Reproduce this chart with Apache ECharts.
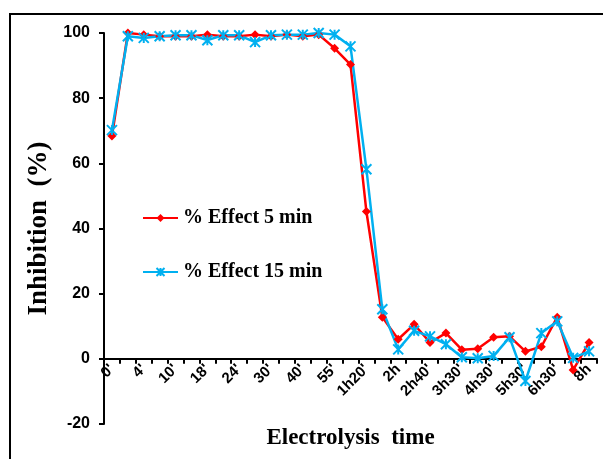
<!DOCTYPE html>
<html>
<head>
<meta charset="utf-8">
<script src="https://cdn.jsdelivr.net/npm/echarts@6/dist/echarts.min.js"></script>
<style>html,body{margin:0;padding:0;background:#fff;}#c{width:603px;height:459px;}</style>
</head>
<body>
<div id="c"></div>
<script>
const categories = ["0'","2'","4'","7'","10'","14'","18'","21'","24'","27'","30'","35'","40'","45'","55'","1h05'","1h20'","1h40'","2h","2h20'","2h40'","3h","3h30'","4h","4h30'","5h","5h30'","6h","6h30'","7h","8h"];
const effect5 = [68.4,100,99.5,99,99,99,99.5,99,99,99.5,99,99.5,99,99.5,95.3,90.3,45.2,12.8,6,10.6,5,7.9,2.8,3.1,6.6,6.9,2.3,3.7,12.8,-3.4,5];
const effect15 = [70.2,99,98.5,99,99.3,99.3,97.8,99.3,99.3,97.2,99.3,99.5,99.5,100,99.5,95.9,58.2,15.2,2.9,8.6,6.9,4.5,0.5,0.2,0.9,6.6,-6.8,7.9,11.5,0.3,2.3];
const yTicks = {min:-20, max:100, interval:20};

const gridTop = 33, gridBottom = 35, H = 459;
const plotH = H - gridTop - gridBottom;
const zeroOffset = -plotH * (0 - yTicks.min) / (yTicks.max - yTicks.min);

const chart = echarts.init(document.getElementById('c'), null, {renderer:'canvas'});
const serif = '"Liberation Serif","Times New Roman",serif';
const sans = '"Liberation Sans",Arial,sans-serif';
chart.setOption({
  animation:false,
  backgroundColor:'#fff',
  graphic:[{type:'rect', shape:{x:10,y:14,width:700,height:600}, style:{fill:'none', stroke:'#000', lineWidth:2}, silent:true}],
  grid:{left:104, right:6, top:gridTop, bottom:gridBottom, containLabel:false, outerBoundsMode:'none'},
  legend:{
    orient:'vertical', left:137, top:203, itemGap:34, itemWidth:35, itemHeight:10,
    textStyle:{fontFamily:serif, fontWeight:'bold', fontSize:20, color:'#000'},
    data:['% Effect 5 min','% Effect 15 min']
  },
  xAxis:{
    type:'category', data:categories, boundaryGap:true, position:'bottom', offset:zeroOffset,
    name:'Electrolysis  time', nameLocation:'middle', nameGap:68,
    nameTextStyle:{fontFamily:serif, fontWeight:'bold', fontSize:23, color:'#000'},
    axisLine:{onZero:false, lineStyle:{color:'#000', width:2}},
    axisTick:{show:true, interval:0, length:5, lineStyle:{color:'#000', width:2}},
    axisLabel:{interval:1, rotate:45, margin:8, fontFamily:sans, fontWeight:'bold', fontSize:15, color:'#000'},
    splitLine:{show:false}
  },
  yAxis:{
    type:'value', min:yTicks.min, max:yTicks.max, interval:yTicks.interval,
    name:'Inhibition  (%)', nameLocation:'middle', nameGap:50, nameRotate:90,
    nameTextStyle:{fontFamily:serif, fontWeight:'bold', fontSize:27, color:'#000'},
    axisLine:{show:true, lineStyle:{color:'#000', width:2}},
    axisTick:{show:true, length:5, lineStyle:{color:'#000', width:2}},
    axisLabel:{margin:14, fontFamily:sans, fontWeight:'bold', fontSize:16, color:'#000'},
    splitLine:{show:false}
  },
  series:[
    {name:'% Effect 5 min', type:'line', data:effect5, symbol:'diamond', symbolSize:9,
     lineStyle:{color:'#FF0000', width:2.5}, itemStyle:{color:'#FF0000'}},
    {name:'% Effect 15 min', type:'line', data:effect15,
     symbol:'path://M0,0L10,10M10,0L0,10M5,0L5,10', symbolSize:10,
     lineStyle:{color:'#00B0F0', width:2.5}, itemStyle:{color:'#00B0F0', borderColor:'#00B0F0', borderWidth:2}}
  ]
});
</script>
</body>
</html>
